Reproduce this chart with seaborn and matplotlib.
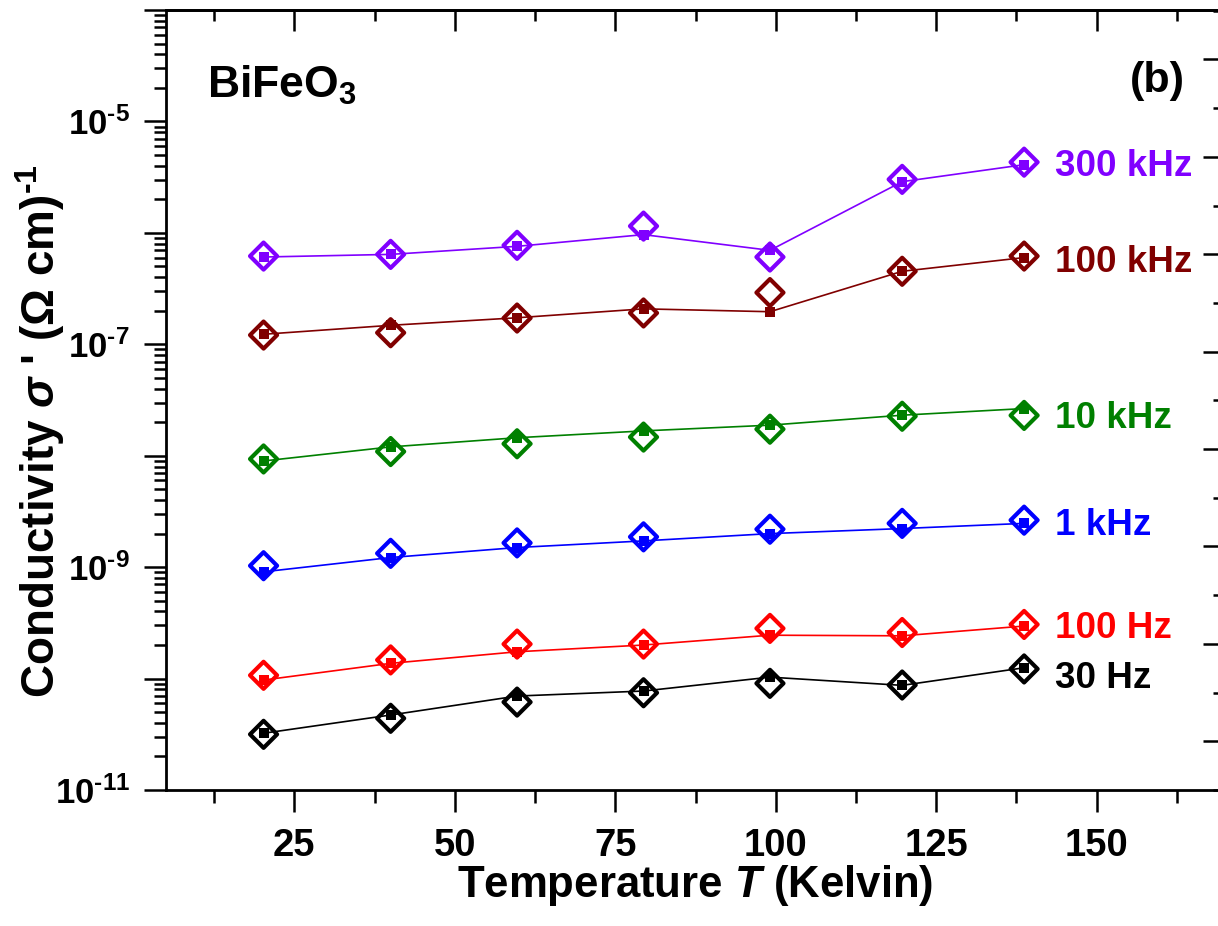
import numpy as np
import pandas as pd
import matplotlib
matplotlib.use("Agg")
import matplotlib.pyplot as plt
import matplotlib.ticker as mticker
import seaborn as sns

# ---------------- data ----------------
temperature = [20.2, 40.0, 59.7, 79.4, 99.1, 119.7, 138.7]
freq_labels = ["300 kHz", "100 kHz", "10 kHz", "1 kHz", "100 Hz", "30 Hz"]
colors = ["#8000FF", "#800000", "#008000", "#0000FF", "#FF0000", "#000000"]

# filled squares (joined by lines)
sq_300k = [6.07e-7, 6.41e-7, 7.57e-7, 9.64e-7, 6.97e-7, 2.88e-6, 4.09e-6]
sq_100k = [1.23e-7, 1.48e-7, 1.73e-7, 2.08e-7, 1.96e-7, 4.52e-7, 6.00e-7]
sq_10k = [8.97e-9, 1.20e-8, 1.45e-8, 1.67e-8, 1.88e-8, 2.31e-8, 2.65e-8]
sq_1k = [9.08e-10, 1.22e-9, 1.50e-9, 1.72e-9, 2.00e-9, 2.22e-9, 2.47e-9]
sq_100 = [9.7e-11, 1.37e-10, 1.74e-10, 2.00e-10, 2.45e-10, 2.42e-10, 2.96e-10]
sq_30 = [3.23e-11, 4.71e-11, 6.97e-11, 7.73e-11, 1.03e-10, 8.69e-11, 1.25e-10]

# open diamonds
di_300k = [6.19e-7, 6.41e-7, 7.73e-7, 1.15e-6, 6.07e-7, 3.02e-6, 4.31e-6]
di_100k = [1.21e-7, 1.27e-7, 1.72e-7, 1.91e-7, 2.91e-7, 4.52e-7, 6.19e-7]
di_10k = [9.35e-9, 1.09e-8, 1.28e-8, 1.47e-8, 1.73e-8, 2.26e-8, 2.30e-8]
di_1k = [1.03e-9, 1.33e-9, 1.65e-9, 1.87e-9, 2.19e-9, 2.47e-9, 2.64e-9]
di_100 = [1.07e-10, 1.47e-10, 2.04e-10, 2.04e-10, 2.82e-10, 2.59e-10, 3.06e-10]
di_30 = [3.16e-11, 4.40e-11, 6.15e-11, 7.46e-11, 9.06e-11, 8.75e-11, 1.22e-10]

squares = [sq_300k, sq_100k, sq_10k, sq_1k, sq_100, sq_30]
diamonds = [di_300k, di_100k, di_10k, di_1k, di_100, di_30]

# ---------------- style ----------------
sns.set_style("ticks")
plt.rcParams["font.family"] = ["Liberation Sans", "DejaVu Sans"]
plt.rcParams["font.weight"] = "bold"
plt.rcParams["mathtext.fontset"] = "custom"
plt.rcParams["mathtext.rm"] = "Liberation Sans:bold"
plt.rcParams["mathtext.bf"] = "Liberation Sans:bold"
plt.rcParams["mathtext.it"] = "Liberation Sans:bold:italic"
plt.rcParams["mathtext.default"] = "regular"
for key in ["text.color", "axes.labelcolor", "xtick.color", "ytick.color", "axes.edgecolor"]:
    plt.rcParams[key] = "black"

W, H = 1218, 926
fig = plt.figure(figsize=(W / 100, H / 100), dpi=100)
left, right, top, bottom = 166, 1225, 10, 790
ax = fig.add_axes([left / W, 1 - bottom / H, (right - left) / W, (bottom - top) / H])

for sq, di, col in zip(squares, diamonds, colors):
    sns.scatterplot(x=temperature, y=di, ax=ax, marker="D", s=190,
                    facecolors="none", edgecolor=col, linewidth=3.0, zorder=3)
    sns.lineplot(x=temperature, y=sq, ax=ax, color=col, linewidth=1.2,
                 marker="s", markersize=7, markeredgewidth=0,
                 markerfacecolor=col, zorder=4)

ax.set_yscale("log")
ax.set_xlim(5, 170)
ax.set_ylim(1e-11, 1e-4)

# frequency labels next to last point
label_dy = [0, -2, 1, -1, 0, -4]
for lab, di, col, dy in zip(freq_labels, diamonds, colors, label_dy):
    ax.annotate(lab, xy=(temperature[-1], di[-1]), xytext=(22, -9.8 + dy),
                textcoords="offset points", ha="left", va="baseline",
                color=col, fontsize=26.5, fontweight="bold")

# ticks
ax.xaxis.set_major_locator(mticker.MultipleLocator(25))
ax.xaxis.set_minor_locator(mticker.MultipleLocator(12.5))
ax.xaxis.set_major_formatter(mticker.FuncFormatter(lambda v, p: f"{int(v)}" if 20 <= v <= 160 else ""))

ax.yaxis.set_major_locator(mticker.FixedLocator([10.0 ** k for k in range(-11, -3)]))
ax.yaxis.set_minor_locator(mticker.LogLocator(base=10, subs=np.arange(2, 10), numticks=30))
ax.yaxis.set_minor_formatter(mticker.NullFormatter())


def yfmt(v, p):
    k = int(round(np.log10(v)))
    return "10$^{\\text{-%d}}$" % abs(k) if k in (-11, -9, -7, -5) else ""


ax.yaxis.set_major_formatter(mticker.FuncFormatter(yfmt))

ax.tick_params(axis="both", which="major", direction="out", length=16, width=1.8, pad=8)
ax.tick_params(axis="both", which="minor", direction="out", length=9, width=1.8)
ax.tick_params(axis="x", which="major", pad=11, labelsize=27.5)
ax.tick_params(axis="y", which="major", pad=10, labelsize=25)
for lab in ax.get_xticklabels() + ax.get_yticklabels():
    lab.set_fontweight("bold")

for sp in ax.spines.values():
    sp.set_linewidth(2.0)
    sp.set_visible(True)

# top ticks (inward)
axt = ax.secondary_xaxis("top")
axt.xaxis.set_major_locator(mticker.MultipleLocator(25))
axt.xaxis.set_minor_locator(mticker.MultipleLocator(12.5))
axt.tick_params(which="major", direction="in", length=15, width=1.8, labeltop=False)
axt.tick_params(which="minor", direction="in", length=8, width=1.8)
axt.spines["top"].set_linewidth(2.0)

# right ticks (inward, unlabeled)
axr = ax.twinx()
axr.set_ylim(-0.5, 7.508)
axr.yaxis.set_major_locator(mticker.MultipleLocator(1))
axr.yaxis.set_minor_locator(mticker.MultipleLocator(0.5))
axr.tick_params(which="major", direction="in", length=16, width=1.8, labelright=False)
axr.tick_params(which="minor", direction="in", length=9, width=1.8)
for sp in axr.spines.values():
    sp.set_visible(False)

# axis labels
ax.set_xlabel("Temperature $\\mathit{T}$ (Kelvin)", fontsize=31.5, fontweight="bold")
ax.xaxis.set_label_coords(0.5, -0.137)
ax.xaxis.label.set_va("baseline")
ax.set_ylabel("Conductivity $\\mathit{σ}$ ' (Ω cm)$^{\\text{-1}}$", fontsize=33, fontweight="bold")
ax.yaxis.set_label_coords(-0.119, 0.46)
ax.yaxis.label.set_va("center")

ax.text(0.0387, 0.888, "BiFeO$_{3}$", transform=ax.transAxes, fontsize=32,
        fontweight="bold", ha="left", va="baseline")
ax.text(0.962, 0.895, "(b)", transform=ax.transAxes, fontsize=31,
        fontweight="bold", ha="right", va="baseline")

fig.savefig("out.png", dpi=100)
